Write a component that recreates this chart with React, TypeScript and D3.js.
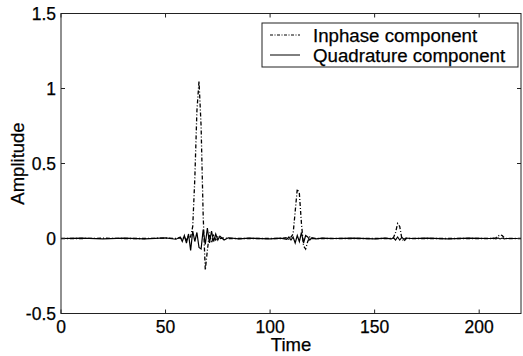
import React from "react";
import * as d3 from "d3";

const times = [0, 10, 20, 30, 40, 50, 55, 57, 58, 59, 60, 61, 62, 63, 64, 65, 66, 67, 68, 69, 70, 71, 72, 73, 74, 75, 76, 78, 80, 85, 90, 100, 105, 108, 109, 110, 111, 112, 113, 114, 115, 116, 117, 118, 119, 120, 122, 125, 130, 140, 150, 155, 158, 159, 160, 161, 162, 163, 164, 165, 168, 175, 185, 195, 205, 207, 208, 209, 210, 211, 212, 213, 215, 220];

const inphase = [0, 0, 0.002, 0, 0, 0.003, 0, 0.005, -0.005, 0.01, -0.01, 0.02, 0.01, 0.08, 0.4, 0.85, 1.05, 0.75, 0.15, -0.21, -0.08, 0.04, -0.03, 0.02, -0.01, 0.01, 0, 0.005, 0, 0, 0, 0, 0, 0.005, -0.005, 0.01, 0.03, 0.18, 0.33, 0.3, 0.1, -0.05, -0.07, -0.02, 0.01, 0, 0, 0, 0, 0, 0, 0, 0, 0.005, 0.04, 0.1, 0.08, 0, -0.02, 0, 0, 0, 0, 0, 0, 0, 0.005, 0.015, 0.025, 0.02, 0.005, 0, 0, 0];

const quadrature = [0, 0.003, -0.002, 0.002, -0.002, 0.004, -0.005, 0.01, -0.02, 0.02, -0.03, 0.03, -0.08, 0.05, -0.02, 0.04, -0.06, -0.07, 0.06, -0.04, 0.07, -0.03, 0.05, -0.02, 0.03, -0.01, 0.015, -0.01, 0.005, -0.003, 0.002, -0.002, 0.003, -0.005, 0.01, -0.01, 0.01, -0.03, 0.02, -0.02, 0.04, -0.03, 0.02, 0.01, -0.01, 0.005, -0.003, 0.002, 0, 0.002, -0.002, 0.002, -0.003, 0.005, -0.01, 0.01, -0.01, 0.008, -0.005, 0.003, 0, 0.002, -0.002, 0.002, 0, 0.002, -0.003, 0.004, -0.003, 0.003, -0.002, 0, 0, 0];

const xTicks = [0, 50, 100, 150, 200];
const yTicks = [-0.5, 0, 0.5, 1, 1.5];
const legendLabels = ["Inphase component", "Quadrature component"];

export default function App() {
  const W = 523, H = 356;
  const left = 61, right = 521, top = 13.5, bottom = 313.5;
  const x = d3.scaleLinear().domain([0, 220]).range([left, right]);
  const y = d3.scaleLinear().domain([-0.5, 1.5]).range([bottom, top]);
  const line = (vals: number[]) =>
    d3.line<number>().x((_, i) => x(times[i])).y((v) => y(v))(vals) || "";
  const font = "'Liberation Sans', Arial, sans-serif";
  const fs = 17.5;
  return (
    <svg width={W} height={H} style={{ position: "absolute", left: 0, top: 0, background: "#fff" }} fontFamily={font}>
      <rect x={0} y={0} width={W} height={H} fill="#fff" />
      <path d={line(quadrature)} fill="none" stroke="#000" strokeWidth={1.2} />
      <path d={line(inphase)} fill="none" stroke="#000" strokeWidth={1.3} strokeDasharray="4,2,1,2" />
      <rect x={left} y={top} width={right - left} height={bottom - top} fill="none" stroke="#222" strokeWidth={1} />
      {xTicks.map((t) => (
        <g key={"x" + t}>
          <line x1={x(t)} x2={x(t)} y1={bottom} y2={bottom - 4} stroke="#222" />
          <line x1={x(t)} x2={x(t)} y1={top} y2={top + 4} stroke="#222" />
          <text x={x(t)} y={bottom + 19} fontSize={fs} textAnchor="middle" stroke="#000" strokeWidth={0.25}>{t}</text>
        </g>
      ))}
      {yTicks.map((t) => (
        <g key={"y" + t}>
          <line x1={left} x2={left + 4} y1={y(t)} y2={y(t)} stroke="#222" />
          <line x1={right} x2={right - 4} y1={y(t)} y2={y(t)} stroke="#222" />
          <text x={left - 5} y={y(t) + 6} fontSize={fs} textAnchor="end" stroke="#000" strokeWidth={0.25}>{t}</text>
        </g>
      ))}
      <text x={(left + right) / 2} y={351} fontSize={18.5} textAnchor="middle" stroke="#000" strokeWidth={0.25}>Time</text>
      <text transform={`translate(24,${(top + bottom) / 2}) rotate(-90)`} fontSize={18.5} textAnchor="middle" stroke="#000" strokeWidth={0.25}>Amplitude</text>
      <rect x={262} y={23} width={256} height={44} fill="#fff" stroke="#222" strokeWidth={1} />
      {legendLabels.map((l, i) => (
        <g key={l}>
          <line x1={270} x2={300} y1={35 + i * 20} y2={35 + i * 20} stroke="#000" strokeWidth={1} strokeDasharray={i === 0 ? "3,1.5,1,1.5" : undefined} />
          <text x={313} y={41.5 + i * 20} fontSize={18.7} stroke="#000" strokeWidth={0.25}>{l}</text>
        </g>
      ))}
    </svg>
  );
}
